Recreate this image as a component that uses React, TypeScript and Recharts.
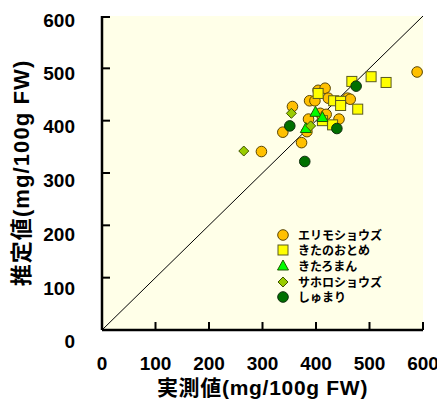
import { ScatterChart, Scatter, XAxis, YAxis, CartesianGrid, ReferenceLine, Legend } from 'recharts';

// 実測値 vs 推定値 (mg/100g FW)
const axisTicks = [0, 100, 200, 300, 400, 500, 600];

const erimo: [number, number][] = [
    [589, 493], [298, 341], [338, 378], [356, 427], [373, 358], [383, 379],
    [386, 403], [388, 438], [398, 438], [404, 458], [417, 462], [408, 414],
    [419, 412], [423, 443], [443, 403], [459, 443], [464, 441],
];
const kitanootome: [number, number][] = [
    [404, 452], [433, 438], [446, 437], [446, 429], [478, 422], [467, 475],
    [503, 484], [531, 473], [412, 400], [431, 392],
];
const kitaroman: [number, number][] = [[399, 416], [412, 406], [381, 385]];
const sapporo: [number, number][] = [[265, 342], [354, 414], [390, 390]];
const shumari: [number, number][] = [[351, 390], [439, 385], [475, 466], [379, 322]];

const FONT = '"Liberation Sans", "Noto Sans CJK JP", sans-serif';
const JP_FONT = '"Noto Sans CJK JP", "Liberation Sans", sans-serif';

type Kind = 'circle' | 'square' | 'triangle' | 'diamond';

const series: { name: string; points: [number, number][]; kind: Kind; fill: string; stroke: string }[] = [
    { name: 'エリモショウズ', points: erimo, kind: 'circle', fill: '#FFC000', stroke: '#5a4500' },
    { name: 'きたのおとめ', points: kitanootome, kind: 'square', fill: '#FFFF00', stroke: '#5a5a20' },
    { name: 'きたろまん', points: kitaroman, kind: 'triangle', fill: '#00FF00', stroke: '#1f5a00' },
    { name: 'サホロショウズ', points: sapporo, kind: 'diamond', fill: '#99CC00', stroke: '#3f5200' },
    { name: 'しゅまり', points: shumari, kind: 'circle', fill: '#007000', stroke: '#0f2f0f' },
];

function Marker({ kind, cx, cy, fill, stroke }: { kind: Kind; cx: number; cy: number; fill: string; stroke: string }) {
    if (kind === 'square') {
        return <rect x={cx - 5} y={cy - 5} width={10} height={10} fill={fill} stroke={stroke} strokeWidth={1} />;
    }
    if (kind === 'triangle') {
        return <polygon points={`${cx},${cy - 6} ${cx + 5.5},${cy + 4} ${cx - 5.5},${cy + 4}`} fill={fill} stroke={stroke} strokeWidth={1} />;
    }
    if (kind === 'diamond') {
        return <polygon points={`${cx},${cy - 5} ${cx + 5},${cy} ${cx},${cy + 5} ${cx - 5},${cy}`} fill={fill} stroke={stroke} strokeWidth={1} />;
    }
    return <circle cx={cx} cy={cy} r={5.3} fill={fill} stroke={stroke} strokeWidth={1} />;
}

function XTick({ x, y, payload }: any) {
    return (
        <g>
            <line x1={x} x2={x} y1={y} y2={y - 8} stroke="#000" strokeWidth={2} />
            <text x={x} y={y + 40} textAnchor="middle" fontSize={19} fontWeight="bold" fontFamily={FONT} fill="#000">
                {payload.value}
            </text>
        </g>
    );
}

function YTick({ x, y, payload }: any) {
    // labels drift slightly downward in the original
    const dy = 10 + (600 - payload.value) * 0.014;
    return (
        <g>
            <line x1={x} x2={x + 8} y1={y} y2={y} stroke="#000" strokeWidth={2} />
            <text x={x - 27} y={y + dy} textAnchor="end" fontSize={19} fontWeight="bold" fontFamily={FONT} fill="#000">
                {payload.value}
            </text>
        </g>
    );
}

function LegendBox() {
    return (
        <div style={{ fontFamily: JP_FONT, fontWeight: 'bold', fontSize: 12, color: '#000' }}>
            {series.map((s) => (
                <div key={s.name} style={{ display: 'flex', alignItems: 'center', height: 15.6 }}>
                    <svg width={12} height={12} style={{ marginRight: 9, display: 'block' }}>
                        <Marker kind={s.kind} cx={6} cy={6} fill={s.fill} stroke={s.stroke} />
                    </svg>
                    <span style={{ display: 'block', lineHeight: '14px', height: 14 }}>{s.name}</span>
                </div>
            ))}
        </div>
    );
}

export default function App() {
    return (
        <ScatterChart width={437} height={399} margin={{ top: 8, right: 22, bottom: 0, left: 0 }}>
            <CartesianGrid fill="#FFFFE8" stroke="none" horizontal={false} vertical={false} />
            <XAxis
                type="number"
                dataKey="x"
                domain={[0, 600]}
                ticks={axisTicks}
                height={77}
                tickSize={0}
                tickMargin={0}
                tickLine={false}
                axisLine={{ stroke: '#000', strokeWidth: 2.5 }}
                tick={<XTick />}
                label={{
                    value: '実測値(mg/100g FW)',
                    position: 'insideBottom',
                    offset: 12,
                    style: { fontSize: 21, fontWeight: 'bold', fontFamily: FONT, fill: '#000', letterSpacing: 0.7 },
                }}
            />
            <YAxis
                type="number"
                dataKey="y"
                domain={[0, 600]}
                ticks={axisTicks}
                width={94}
                tickSize={0}
                tickMargin={0}
                tickLine={false}
                axisLine={{ stroke: '#000', strokeWidth: 2.5 }}
                tick={<YTick />}
                label={{
                    value: '推定値(mg/100g FW)',
                    angle: -90,
                    position: 'insideLeft',
                    offset: 13,
                    style: { textAnchor: 'middle', fontSize: 22, fontWeight: 'bold', fontFamily: FONT, fill: '#000', letterSpacing: 1.1 },
                }}
            />
            <ReferenceLine
                segment={[{ x: 0, y: 0 }, { x: 600, y: 600 }]}
                stroke="#000"
                strokeWidth={1}
            />
            {series.map((s) => (
                <Scatter
                    key={s.name}
                    name={s.name}
                    data={s.points.map(([x, y]) => ({ x, y }))}
                    isAnimationActive={false}
                    shape={(p: any) => <Marker kind={s.kind} cx={p.cx} cy={p.cy} fill={s.fill} stroke={s.stroke} />}
                />
            ))}
            <Legend
                layout="vertical"
                align="center"
                verticalAlign="middle"
                content={() => <LegendBox />}
                wrapperStyle={{ left: 269, top: 219, width: 'auto' }}
            />
        </ScatterChart>
    );
}
